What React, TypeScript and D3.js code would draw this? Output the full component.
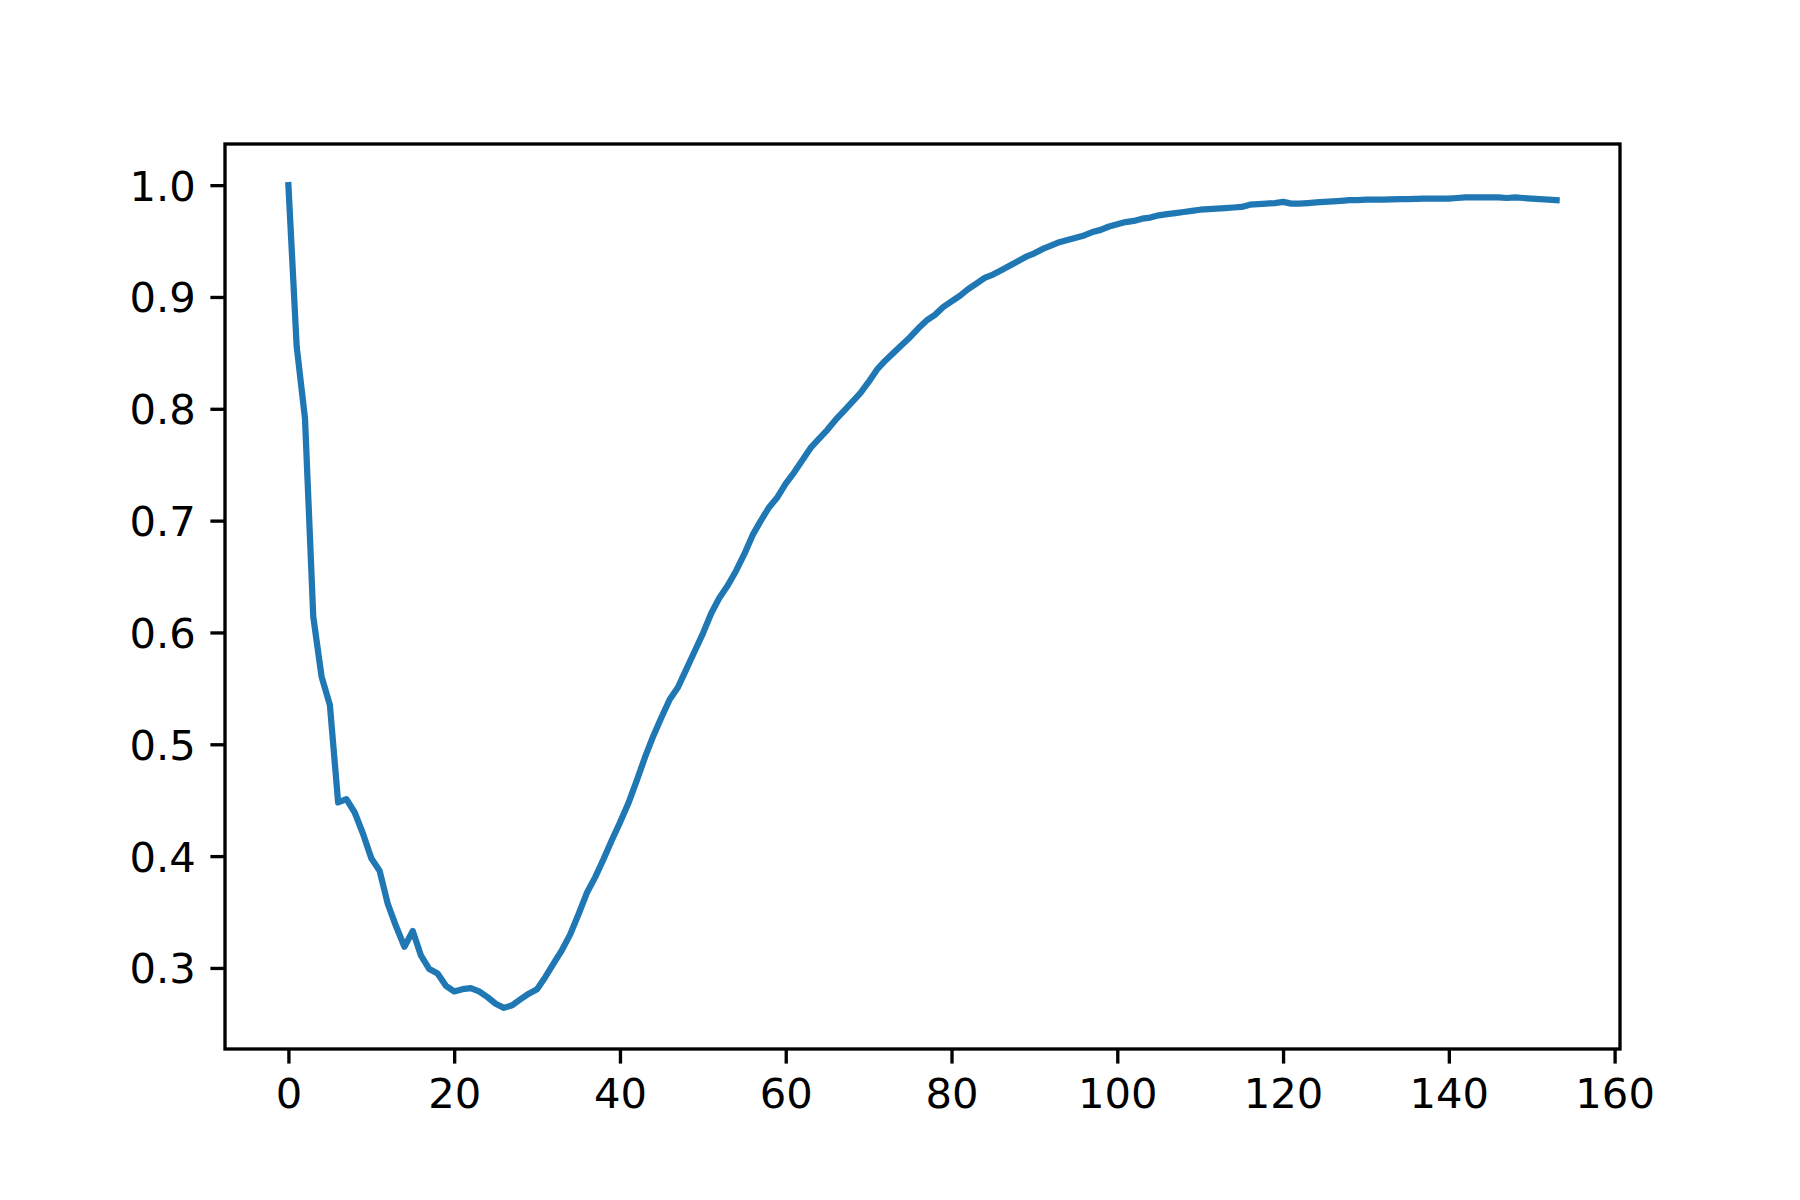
import React, { useEffect, useRef } from 'react'
import * as d3 from 'd3'

// values, one per step (0..153)
const scoresEarly = [
  1.0, 0.8555, 0.7915, 0.614, 0.5606, 0.5353, 0.448, 0.451, 0.439, 0.42,
  0.398, 0.387, 0.357, 0.337, 0.319, 0.333, 0.311, 0.299, 0.295, 0.284,
  0.279, 0.281, 0.282, 0.279, 0.274, 0.268, 0.2643, 0.2666, 0.272, 0.277,
]
const scoresRise = [
  0.281, 0.292, 0.304, 0.316, 0.33, 0.348, 0.367, 0.381, 0.397, 0.414,
  0.43, 0.447, 0.467, 0.488, 0.507, 0.524, 0.54, 0.551, 0.567, 0.583,
  0.599, 0.617, 0.631, 0.642, 0.655, 0.67, 0.687, 0.7, 0.712, 0.721,
  0.733, 0.743, 0.754, 0.765, 0.773, 0.781, 0.79, 0.798, 0.806, 0.814,
]
const scoresBend = [
  0.824, 0.835, 0.843, 0.85, 0.857, 0.864, 0.872, 0.879, 0.884, 0.891,
  0.896, 0.901, 0.907, 0.912, 0.917, 0.92, 0.924, 0.928, 0.932, 0.936,
  0.939, 0.943, 0.946, 0.949, 0.951, 0.953, 0.955, 0.958, 0.96, 0.963,
  0.965,
]
const scoresPlateau = [
  0.967, 0.968, 0.97, 0.971, 0.973, 0.974, 0.975, 0.976, 0.977, 0.978,
  0.9785, 0.979, 0.9795, 0.98, 0.9805, 0.9825, 0.983, 0.9835, 0.984, 0.985,
  0.9835, 0.9835, 0.984, 0.9845, 0.985, 0.9855, 0.986, 0.9865, 0.9865, 0.987,
  0.987, 0.987, 0.9872, 0.9875, 0.9875, 0.9877, 0.988, 0.988, 0.988, 0.988,
  0.9885, 0.989, 0.989, 0.989, 0.989, 0.989, 0.9885, 0.989, 0.9885, 0.988,
  0.9875, 0.987, 0.9866,
]

const xTicks = [0, 20, 40, 60, 80, 100, 120, 140, 160]
const yTicks = [0.3, 0.4, 0.5, 0.6, 0.7, 0.8, 0.9, 1.0]

const App = () => {
  const chartRef = useRef<SVGSVGElement>(null)

  useEffect(() => {
    const width = 1800
    const height = 1200
    const margin = { top: 144, right: 180, bottom: 151, left: 225 }
    const innerW = width - margin.left - margin.right
    const innerH = height - margin.top - margin.bottom
    const fontSize = 41.7
    const tickLen = 14.6

    const values = [...scoresEarly, ...scoresRise, ...scoresBend, ...scoresPlateau]
    const data = values.map((v, i) => ({ step: i, score: v }))

    const svg = d3.select(chartRef.current)
    svg.selectAll('*').remove()
    svg.attr('width', width).attr('height', height)

    const g = svg.append('g').attr('transform', `translate(${margin.left},${margin.top})`)

    // matplotlib style 5% margins
    const xMax = data.length - 1
    const xPad = xMax * 0.05
    const x = d3.scaleLinear().domain([-xPad, xMax + xPad]).range([0, innerW])
    const [yMin, yMax] = d3.extent(values) as [number, number]
    const yPad = (yMax - yMin) * 0.05
    const y = d3.scaleLinear().domain([yMin - yPad, yMax + yPad]).range([innerH, 0])

    const line = d3
      .line<{ step: number; score: number }>()
      .x((d) => x(d.step))
      .y((d) => y(d.score))

    g.append('path')
      .datum(data)
      .attr('fill', 'none')
      .attr('stroke', '#1f77b4')
      .attr('stroke-width', 6.25)
      .attr('stroke-linejoin', 'round')
      .attr('stroke-linecap', 'square')
      .attr('d', line)

    // Add X Axis
    const xAxis = g
      .append('g')
      .attr('transform', `translate(0,${innerH})`)
      .call(d3.axisBottom(x).tickValues(xTicks).tickFormat(d3.format('d')).tickSize(tickLen).tickPadding(14.6))
    xAxis.select('.domain').remove()

    // Add Y Axis
    const yAxis = g
      .append('g')
      .call(d3.axisLeft(y).tickValues(yTicks).tickFormat(d3.format('.1f')).tickSize(tickLen).tickPadding(14.6))
    yAxis.select('.domain').remove()

    for (const ax of [xAxis, yAxis]) {
      ax.selectAll('line').attr('stroke', '#000').attr('stroke-width', 3.33)
      ax.selectAll('text')
        .attr('fill', '#000')
        .style('font-family', '"DejaVu Sans", sans-serif')
        .style('font-size', `${fontSize}px`)
    }
    xAxis.selectAll('text').attr('dy', '0.71em')
    yAxis.selectAll('text').attr('dy', '0.36em')

    // frame
    g.append('rect')
      .attr('width', innerW)
      .attr('height', innerH)
      .attr('fill', 'none')
      .attr('stroke', '#000')
      .attr('stroke-width', 3.33)
      .attr('stroke-linecap', 'square')
  }, [])

  return (
    <svg
      ref={chartRef}
      style={{ position: 'absolute', left: 0, top: 0, background: '#fff' }}
    ></svg>
  )
}

export default App
